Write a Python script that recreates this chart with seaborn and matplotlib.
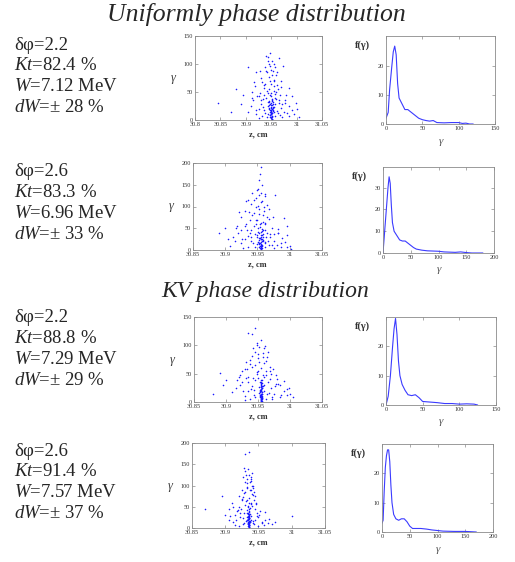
import numpy as np
import pandas as pd
import matplotlib
matplotlib.use("Agg")
import matplotlib.pyplot as plt
import seaborn as sns

# ---- data ----
titles = ["Uniformly phase distribution", "KV phase distribution"]
params = [
    ["δφ=2.2", "$Kt$=82.4 %", "$W$=7.12 MeV", "$dW$=± 28 %"],
    ["δφ=2.6", "$Kt$=83.3 %", "$W$=6.96 MeV", "$dW$=± 33 %"],
    ["δφ=2.2", "$Kt$=88.8 %", "$W$=7.29 MeV", "$dW$=± 29 %"],
    ["δφ=2.6", "$Kt$=91.4 %", "$W$=7.57 MeV", "$dW$=± 37 %"],
]

# scatter: z (cm) vs gamma
z1 = [30.950, 30.951, 30.949, 30.952, 30.948, 30.950, 30.953, 30.947, 30.951, 30.949, 30.950, 30.952, 30.948, 30.950, 30.951,
      30.949, 30.946, 30.954, 30.950, 30.952, 30.948, 30.950, 30.953, 30.946, 30.951, 30.944, 30.956, 30.950, 30.950, 30.951,
      30.940, 30.935, 30.960, 30.965, 30.930, 30.925, 30.970, 30.975, 30.920, 30.915, 30.960, 30.945, 30.955, 30.938, 30.948,
      30.952, 30.942, 30.950, 30.946, 30.951, 30.944, 30.947, 30.955, 30.962, 30.935, 30.928, 30.968, 30.978, 30.985, 30.990,
      30.995, 30.905, 30.910, 30.912, 30.918, 30.905, 30.920, 30.930, 30.938, 30.958, 30.962, 30.970, 30.965, 30.940, 30.957,
      30.943, 30.958, 30.936, 30.964, 30.932, 30.972, 30.926, 30.985, 30.980, 30.922, 30.942, 30.958, 30.944, 30.956, 30.950,
      30.934, 30.966, 30.845, 30.870, 30.880, 30.890, 30.895, 31.000, 31.005, 30.998]
g1 = [5, 8, 10, 12, 14, 15, 17, 18, 20, 22, 3, 6, 9, 11, 13,
      16, 19, 21, 24, 26, 28, 30, 32, 34, 36, 25, 23, 18, 12, 2,
      40, 45, 38, 30, 28, 20, 22, 15, 10, 35, 50, 55, 60, 65, 70,
      80, 85, 90, 100, 105, 112, 120, 72, 62, 58, 48, 44, 35, 25, 18,
      10, 15, 25, 50, 60, 95, 85, 75, 95, 95, 85, 70, 110, 115, 40,
      33, 28, 18, 12, 8, 5, 4, 8, 45, 42, 5, 8, 48, 52, 65,
      38, 35, 30, 15, 55, 28, 45, 20, 5, 30]
z1b = [30.9475, 30.9512, 30.9488, 30.9530, 30.9465, 30.9502, 30.9541, 30.9458, 30.9521, 30.9493,
       30.9507, 30.9479, 30.9536, 30.9449, 30.9515, 30.9484, 30.9562, 30.9437, 30.9498, 30.9525,
       30.9385, 30.9615, 30.9342, 30.9668, 30.9291, 30.9712, 30.9256, 30.9763, 30.9208, 30.9817,
       30.9427, 30.9573, 30.9364, 30.9636, 30.9318, 30.9684, 30.9454, 30.9546, 30.9402, 30.9598,
       30.9473, 30.9527, 30.9439, 30.9561, 30.9165, 30.9855, 30.9123, 30.9908, 30.9274, 30.9726]
g1b = [4.5, 7.2, 13.5, 16.8, 21.3, 26.7, 29.1, 31.8, 38.2, 42.6,
       1.4, 9.7, 24.1, 27.6, 33.4, 44.8, 14.2, 11.3, 47.5, 19.6,
       12.5, 16.3, 22.7, 8.4, 35.6, 27.9, 42.3, 31.2, 18.6, 12.9,
       52.4, 47.1, 61.8, 55.3, 67.2, 58.6, 77.4, 68.9, 88.1, 79.5,
       96.3, 87.2, 104.8, 99.4, 68.4, 57.2, 38.5, 42.1, 87.6, 96.8]

z2 = [30.955, 30.956, 30.954, 30.957, 30.953, 30.955, 30.958, 30.952, 30.956, 30.954, 30.955, 30.957, 30.953, 30.955, 30.956,
      30.954, 30.951, 30.959, 30.955, 30.957, 30.953, 30.955, 30.958, 30.951, 30.956, 30.949, 30.961, 30.955,
      30.945, 30.940, 30.965, 30.970, 30.935, 30.930, 30.975, 30.980, 30.925, 30.920, 30.962, 30.950, 30.958, 30.944, 30.953,
      30.956, 30.948, 30.955, 30.951, 30.957, 30.953, 30.954, 30.955, 30.960, 30.965, 30.938, 30.932, 30.972, 30.982, 30.988,
      30.992, 30.996, 30.915, 30.912, 30.918, 30.925, 30.930, 30.940, 30.942, 30.962, 30.968, 30.935, 30.947, 30.961, 30.946,
      30.963, 30.940, 30.968, 30.936, 30.976, 30.928, 30.986, 30.982, 30.924, 30.946, 30.962, 30.948, 30.959, 30.952, 30.938,
      30.970, 30.890, 30.900, 30.905, 31.000, 31.002, 30.995, 30.908]
g2 = [4, 7, 10, 12, 15, 18, 20, 22, 25, 28, 2, 5, 8, 11, 14,
      17, 19, 23, 30, 34, 38, 42, 46, 50, 26, 30, 16, 9,
      55, 45, 40, 30, 32, 25, 20, 12, 15, 40, 60, 70, 80, 85, 95,
      110, 120, 130, 140, 150, 160, 175, 190, 100, 75, 70, 60, 50, 38, 28,
      18, 8, 20, 30, 55, 75, 90, 105, 130, 125, 95, 115, 100, 45, 36,
      30, 20, 12, 8, 5, 4, 6, 48, 46, 6, 8, 60, 64, 82, 40,
      36, 40, 50, 25, 10, 3, 35, 10]
z2b = [30.9545, 30.9563, 30.9528, 30.9571, 30.9516, 30.9552, 30.9589, 30.9507, 30.9571, 30.9538,
       30.9557, 30.9529, 30.9586, 30.9499, 30.9565, 30.9534, 30.9612, 30.9487, 30.9548, 30.9575,
       30.9435, 30.9665, 30.9392, 30.9718, 30.9341, 30.9762, 30.9306, 30.9813, 30.9258, 30.9867,
       30.9477, 30.9623, 30.9414, 30.9686, 30.9368, 30.9734, 30.9504, 30.9596, 30.9452, 30.9648,
       30.9523, 30.9577, 30.9489, 30.9611, 30.9215, 30.9905, 30.9173, 30.9958, 30.9324, 30.9776]
g2b = [5.5, 9.2, 16.5, 21.8, 27.3, 33.7, 37.1, 41.8, 47.2, 53.6,
       1.8, 12.7, 30.1, 35.6, 43.4, 58.8, 18.2, 14.3, 62.5, 24.6,
       15.5, 21.3, 29.7, 10.4, 45.6, 35.9, 55.3, 40.2, 24.6, 16.9,
       68.4, 61.1, 80.8, 72.3, 87.2, 76.6, 100.4, 89.9, 114.1, 103.5,
       125.3, 113.2, 136.8, 129.4, 88.4, 74.2, 50.5, 54.1, 113.6, 125.8]

z3 = [30.955, 30.956, 30.954, 30.955, 30.957, 30.953, 30.955, 30.956, 30.954, 30.955, 30.957, 30.953, 30.955, 30.956, 30.954,
      30.955, 30.957, 30.953, 30.955, 30.956, 30.954, 30.955, 30.957, 30.953, 30.952, 30.958, 30.955, 30.951, 30.959, 30.955,
      30.950, 30.945, 30.960, 30.965, 30.940, 30.935, 30.970, 30.975, 30.930, 30.925, 30.962, 30.948, 30.955, 30.945, 30.952,
      30.958, 30.940, 30.950, 30.960, 30.948, 30.955, 30.940, 30.935, 30.945, 30.965, 30.938, 30.930, 30.970, 30.980, 30.985,
      30.990, 30.995, 30.915, 30.910, 30.920, 30.925, 30.932, 30.942, 30.962, 30.968, 30.942, 30.960, 30.944, 30.964, 30.938,
      30.972, 30.930, 30.984, 30.978, 30.922, 30.946, 30.962, 30.950, 30.958, 30.935, 30.968,
      30.880, 30.890, 30.895, 30.900, 31.000, 31.005, 30.998]
g3 = [3, 6, 9, 12, 15, 18, 21, 24, 27, 30, 33, 36, 5, 8, 11,
      14, 17, 20, 23, 2, 4, 7, 10, 13, 26, 29, 39, 16, 19, 1,
      42, 38, 45, 35, 28, 20, 25, 15, 10, 35, 55, 50, 60, 65, 70,
      80, 82, 85, 95, 100, 110, 120, 122, 130, 88, 75, 58, 50, 40, 30,
      20, 12, 25, 18, 45, 55, 70, 95, 72, 62, 42, 30, 22, 14, 6,
      5, 3, 8, 32, 30, 8, 6, 55, 48, 45, 40,
      15, 52, 30, 38, 15, 8, 25]
z3b = [30.9548, 30.9556, 30.9541, 30.9559, 30.9537, 30.9552, 30.9563, 30.9544, 30.9558, 30.9549,
       30.9553, 30.9539, 30.9561, 30.9546, 30.9554, 30.9542, 30.9566, 30.9535, 30.9551, 30.9557,
       30.9435, 30.9665, 30.9392, 30.9718, 30.9341, 30.9762, 30.9306, 30.9813, 30.9258, 30.9867,
       30.9477, 30.9623, 30.9414, 30.9686, 30.9368, 30.9734, 30.9504, 30.9596, 30.9452, 30.9648,
       30.9523, 30.9577, 30.9489, 30.9611, 30.9215, 30.9905, 30.9173, 30.9958, 30.9324, 30.9776]
g3b = [4.5, 7.2, 13.5, 16.8, 21.3, 26.7, 29.1, 31.8, 38.2, 35.6,
       1.4, 9.7, 24.1, 27.6, 33.4, 19.8, 14.2, 11.3, 22.5, 6.6,
       12.5, 16.3, 22.7, 8.4, 35.6, 27.9, 42.3, 31.2, 18.6, 12.9,
       52.4, 47.1, 61.8, 55.3, 67.2, 58.6, 77.4, 68.9, 88.1, 79.5,
       96.3, 87.2, 104.8, 99.4, 48.4, 37.2, 38.5, 22.1, 57.6, 46.8]

z4 = [30.935, 30.936, 30.934, 30.935, 30.937, 30.933, 30.935, 30.936, 30.934, 30.935, 30.937, 30.933, 30.935, 30.936, 30.934,
      30.935, 30.937, 30.933, 30.935, 30.936, 30.932, 30.938, 30.935, 30.931, 30.939, 30.935, 30.934, 30.936,
      30.930, 30.940, 30.938, 30.932, 30.936, 30.940, 30.930, 30.937, 30.941, 30.933, 30.938, 30.935, 30.930, 30.934, 30.928,
      30.938, 30.926, 30.930, 30.936, 30.925, 30.920, 30.918, 30.915, 30.922, 30.912, 30.945, 30.948, 30.950, 30.955, 30.958,
      30.945, 30.942, 30.925, 30.920, 30.910, 30.905, 30.944, 30.926, 30.942, 30.928, 30.946, 30.924, 30.952, 30.960, 30.965,
      30.970, 30.915, 30.905, 30.950, 30.920, 30.932, 30.940, 30.943,
      30.870, 30.895, 31.000, 30.975, 30.900]
g4 = [3, 6, 9, 12, 15, 18, 21, 24, 27, 30, 33, 36, 5, 8, 11,
      14, 17, 20, 23, 2, 26, 29, 40, 16, 19, 45, 50, 10,
      55, 52, 60, 65, 70, 80, 85, 90, 100, 105, 115, 125, 135, 140, 142,
      110, 120, 175, 178, 65, 50, 40, 30, 25, 15, 45, 35, 25, 15, 8,
      75, 95, 90, 75, 60, 45, 20, 10, 12, 35, 60, 45, 40, 20, 12,
      10, 8, 20, 5, 5, 95, 130, 85,
      45, 75, 28, 15, 30]
z4b = [30.9348, 30.9356, 30.9341, 30.9359, 30.9337, 30.9352, 30.9363, 30.9344, 30.9358, 30.9349, 30.9353, 30.9339,
       30.9361, 30.9346, 30.9354, 30.9342, 30.9366, 30.9335, 30.9351, 30.9357, 30.9331, 30.9369, 30.9345, 30.9355,
       30.9285, 30.9415, 30.9262, 30.9438, 30.9221, 30.9482, 30.9196, 30.9513, 30.9168, 30.9547,
       30.9307, 30.9393, 30.9274, 30.9426, 30.9288, 30.9414, 30.9324, 30.9386, 30.9302, 30.9408,
       30.9333, 30.9377, 30.9309, 30.9391, 30.9115, 30.9605, 30.9073, 30.9658, 30.9254, 30.9456]
g4b = [4.5, 7.2, 13.5, 16.8, 21.3, 26.7, 29.1, 31.8, 38.2, 35.6, 1.4, 9.7,
       24.1, 27.6, 33.4, 19.8, 14.2, 11.3, 22.5, 6.6, 43.5, 47.2, 52.8, 58.1,
       12.5, 16.3, 22.7, 8.4, 35.6, 27.9, 42.3, 31.2, 18.6, 12.9,
       62.4, 57.1, 71.8, 65.3, 82.2, 78.6, 97.4, 88.9, 108.1, 99.5,
       116.3, 107.2, 124.8, 119.4, 48.4, 37.2, 28.5, 22.1, 67.6, 56.8]

# distribution f(gamma)
h1_g = [0, 3, 5, 8, 10, 12, 14, 16, 18, 22, 26, 30, 35, 40, 45, 50, 55, 60, 65, 70, 80, 90, 100, 105, 110, 115, 120]
h1_f = [2, 4, 12, 20, 25, 27, 24, 14, 9, 7, 5, 5, 4, 3, 2, 1.5, 1.2, 1, 1.2, 0.5, 0.4, 0.5, 0.5, 0.2, 0.3, 0, 0]
h2_g = [0, 3, 6, 9, 11, 13, 15, 17, 20, 25, 30, 35, 40, 45, 50, 55, 60, 70, 80, 100, 110, 130, 140, 150, 160, 180]
h2_f = [0, 10, 20, 30, 35, 32, 22, 14, 10, 8, 6, 5.5, 5.5, 4.5, 3.5, 2.5, 1.8, 1.3, 1, 0.8, 0.5, 0.3, 0.5, 0.2, 0, 0]
h3_g = [0, 3, 6, 9, 11, 13, 15, 17, 19, 22, 26, 30, 35, 40, 45, 50, 60, 70, 80, 90, 100, 110, 120, 125]
h3_f = [0, 3, 10, 20, 26, 29.5, 24, 15, 10, 7, 5, 3.5, 3.2, 3.5, 2.5, 1.2, 1, 0.8, 0.5, 0.5, 0.3, 0.4, 0.3, 0]
h4_g = [0, 2, 4, 6, 8, 10, 12, 14, 16, 18, 21, 25, 30, 35, 40, 45, 50, 55, 70, 80, 90, 100, 110, 130, 150, 170]
h4_f = [3, 4, 14, 22, 26, 28, 28, 24, 16, 10, 6, 4.5, 4, 4.5, 4.5, 3.5, 2, 1.2, 1.2, 1, 0.7, 0.5, 0.3, 0.2, 0.2, 0]

scatters = [(z1 + z1b, g1 + g1b), (z2 + z2b, g2 + g2b), (z3 + z3b, g3 + g3b), (z4 + z4b, g4 + g4b)]
hists = [(h1_g, h1_f), (h2_g, h2_f), (h3_g, h3_f), (h4_g, h4_f)]

z_ticks = [
    ([30.8, 30.85, 30.9, 30.95, 31, 31.05], ["30.8", "30.85", "30.9", "30.95", "31", "31.05"]),
    ([30.85, 30.9, 30.95, 31, 31.05], ["30.85", "30.9", "30.95", "31", "31.05"]),
    ([30.85, 30.9, 30.95, 31, 31.05], ["30.85", "30.9", "30.95", "31", "31.05"]),
    ([30.85, 30.9, 30.95, 31, 31.05], ["30.85", "30.9", "30.95", "31", "31.05"]),
]
g_max = [150, 200, 150, 200]
h_xmax = [150, 200, 150, 200]
h_ymax = [30.5, 39.5, 30, 30]
h_yticks = [[0, 10, 20], [0, 10, 20, 30], [0, 10, 20], [0, 10, 20]]

# ---- layout (pixel boxes: left, top, right, bottom) ----
W, H = 515, 562
sc_box = [(195, 36, 322, 120), (193, 163, 322, 250), (194, 317, 322, 402), (192, 443, 325, 528)]
hi_box = [(386, 36, 495, 124), (383, 167, 494, 253), (386, 317, 496, 405), (382, 444, 493, 532)]
text_top = [45, 172, 318, 451]

sns.set_style("ticks")
plt.rcParams["font.family"] = ["Liberation Serif", "DejaVu Serif"]
plt.rcParams["mathtext.fontset"] = "custom"
plt.rcParams["mathtext.rm"] = "Liberation Serif"
plt.rcParams["mathtext.it"] = "Liberation Serif:italic"

fig = plt.figure(figsize=(W / 100, H / 100), dpi=100)
fig.patch.set_facecolor("white")


def px_axes(box):
    l, t, r, b = box
    return fig.add_axes([l / W, 1 - b / H, (r - l) / W, (b - t) / H])


def style(ax):
    for s in ax.spines.values():
        s.set_color("#8a8a8a")
        s.set_linewidth(0.6)
    ax.tick_params(direction="in", length=2, width=0.5, colors="#8a8a8a",
                   labelsize=4.5, labelcolor="#333333", top=True, right=True, pad=1.5)
    ax.set_xlabel("")
    ax.set_ylabel("")


fig.text(256 / W, 1 - 15 / H, titles[0], ha="center", va="center", fontsize=18.5, style="italic")
fig.text(265 / W, 1 - 292 / H, titles[1], ha="center", va="center", fontsize=17, style="italic")

for i in range(4):
    # parameter text
    for k, line in enumerate(params[i]):
        fig.text(14 / W, 1 - (text_top[i] + 20.7 * k) / H, line, ha="left", va="center", fontsize=13.5)

    # scatter
    ax = px_axes(sc_box[i])
    df = pd.DataFrame({"z": scatters[i][0], "g": scatters[i][1]})
    sns.scatterplot(data=df, x="z", y="g", ax=ax, s=1.3, color="#1a1aff", linewidth=0, legend=False)
    ax.set_xlim(z_ticks[i][0][0], 31.05)
    ax.set_ylim(0, g_max[i])
    ax.set_xticks(z_ticks[i][0])
    ax.set_xticklabels(z_ticks[i][1])
    ax.set_yticks(np.arange(0, g_max[i] + 1, 50))
    style(ax)
    l, t, r, b = sc_box[i]
    fig.text((l - 22) / W, 1 - ((t + b) / 2) / H, "γ", ha="center", va="center", fontsize=9, style="italic",
             color="#444444")
    fig.text(((l + r) / 2) / W, 1 - (b + 14) / H, "z, cm", ha="center", va="center", fontsize=6,
             weight="bold", color="#333333")

    # distribution
    ax2 = px_axes(hi_box[i])
    dh = pd.DataFrame({"g": hists[i][0], "f": hists[i][1]})
    sns.lineplot(data=dh, x="g", y="f", ax=ax2, color="#3b3bff", linewidth=0.8)
    ax2.set_xlim(0, h_xmax[i])
    ax2.set_ylim(0, h_ymax[i])
    ax2.set_xticks(np.arange(0, h_xmax[i] + 1, 50))
    ax2.set_yticks(h_yticks[i])
    style(ax2)
    l, t, r, b = hi_box[i]
    fig.text((l - 23) / W, 1 - (t + 9) / H, "f(γ)", ha="center", va="center", fontsize=7.5,
             weight="bold", color="#333333")
    fig.text(((l + r) / 2) / W, 1 - (b + 17) / H, "γ", ha="center", va="center", fontsize=8, style="italic",
             color="#555555")

fig.savefig("out.png", dpi=100)
